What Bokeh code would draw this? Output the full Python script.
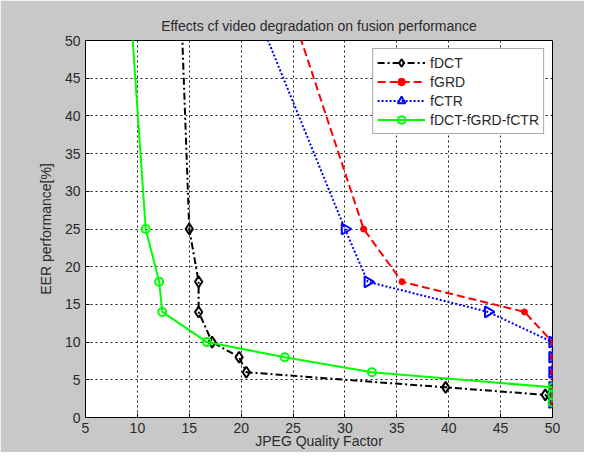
import math
from bokeh.plotting import figure
from bokeh.models import Range1d, FixedTicker, Legend, LegendItem
from bokeh.embed import file_html
from bokeh.resources import INLINE

# ---- data ----
dct_x = [14.2, 15.0, 15.9, 15.9, 17.2, 19.8, 20.5, 39.7, 49.3, 50.0]
dct_y = [55.0, 25.0, 18.0, 14.0, 10.0, 8.0, 6.0, 4.0, 3.0, 2.0]

grd_x = [24.6, 31.8, 35.5, 47.3, 50.0, 50.0, 50.0, 50.0, 50.0, 50.0]
grd_y = [55.0, 25.0, 18.0, 14.0, 10.0, 8.0, 6.0, 4.0, 3.0, 2.0]

ctr_x = [21.1, 30.0, 32.2, 43.8, 50.0, 50.0, 50.0, 50.0, 50.0, 50.0]
ctr_y = [55.0, 25.0, 18.0, 14.0, 10.0, 8.0, 6.0, 4.0, 3.0, 2.0]

fus_x = [9.3, 10.8, 12.1, 12.4, 16.7, 24.2, 32.6, 50.0, 50.0, 50.0]
fus_y = [55.0, 25.0, 18.0, 14.0, 10.0, 8.0, 6.0, 4.0, 3.0, 2.0]

x_ticks = [5, 10, 15, 20, 25, 30, 35, 40, 45, 50]
y_ticks = [0, 5, 10, 15, 20, 25, 30, 35, 40, 45, 50]

FONT = "Liberation Sans"
TXT = "#2a2a2a"

p = figure(width=584, height=452, output_backend="svg", toolbar_location=None,
           x_range=Range1d(5, 50), y_range=Range1d(0, 50),
           title="Effects cf video degradation on fusion performance",
           min_border_left=85, min_border_right=32, min_border_top=40,
           min_border_bottom=35)
p.background_fill_color = "white"
p.border_fill_color = "#c8c8c8"
p.outline_line_color = "black"
p.outline_line_width = 1

p.title.align = "center"
p.title.text_font = FONT
p.title.text_font_size = "14px"
p.title.text_font_style = "normal"
p.title.text_color = TXT
p.title.standoff = 13

for ax in (p.xaxis[0], p.yaxis[0]):
    ax.major_label_text_font = FONT
    ax.major_label_text_font_size = "14px"
    ax.major_label_text_color = TXT
    ax.axis_label_text_font = FONT
    ax.axis_label_text_font_size = "14px"
    ax.axis_label_text_font_style = "normal"
    ax.axis_label_text_color = TXT
    ax.major_tick_in = 4
    ax.major_tick_out = 0
    ax.minor_tick_in = 0
    ax.minor_tick_out = 0
    ax.axis_line_color = "black"
    ax.major_tick_line_color = "black"

p.xaxis.ticker = FixedTicker(ticks=x_ticks)
p.yaxis.ticker = FixedTicker(ticks=y_ticks)
p.xaxis.axis_label = "JPEG Quality Factor"
p.yaxis.axis_label = "EER performance[%]"
p.xaxis.major_label_standoff = 5
p.yaxis.major_label_standoff = 5
p.xaxis.axis_label_standoff = -3
p.yaxis.axis_label_standoff = 8

for g in (p.xgrid[0], p.ygrid[0]):
    g.grid_line_color = "black"
    g.grid_line_dash = "2 3"
    g.grid_line_alpha = 0.9
    g.grid_line_width = 1

LW = 2
l1 = p.line(dct_x, dct_y, line_color="black", line_width=LW, line_dash="7 3 2 3")
m1 = p.scatter(dct_x, dct_y, marker="diamond", size=11, line_color="black",
               fill_color=None, line_width=2)
l2 = p.line(grd_x, grd_y, line_color="#ff0000", line_width=LW, line_dash="8 4")
m2 = p.scatter(grd_x, grd_y, marker="circle", size=6, line_color="#ff0000",
               fill_color="#ff0000", line_width=1)
l3 = p.line(ctr_x, ctr_y, line_color="#0000ff", line_width=LW, line_dash="2 2")
m3 = p.scatter(ctr_x, ctr_y, marker="triangle", angle=-math.pi / 2, size=11,
               line_color="#0000ff", fill_color=None, line_width=2)
l4 = p.line(fus_x, fus_y, line_color="#00ff00", line_width=LW)
m4 = p.scatter(fus_x, fus_y, marker="circle", size=8, line_color="#00ff00",
               fill_color=None, line_width=2)

legend = Legend(items=[
    LegendItem(label="fDCT", renderers=[l1, m1]),
    LegendItem(label="fGRD", renderers=[l2, m2]),
    LegendItem(label="fCTR", renderers=[l3, m3]),
    LegendItem(label="fDCT-fGRD-fCTR", renderers=[l4, m4]),
], location="top_right")
legend.margin = 8
legend.padding = 4
legend.spacing = 0
legend.label_height = 19
legend.glyph_height = 19
legend.glyph_width = 48
legend.label_standoff = 5
legend.label_text_font = FONT
legend.label_text_font_size = "14px"
legend.label_text_color = TXT
legend.border_line_color = "#555555"
legend.border_line_width = 1
legend.background_fill_color = "white"
legend.background_fill_alpha = 1
p.add_layout(legend)

open("out.html", "w").write(file_html(p, INLINE))
